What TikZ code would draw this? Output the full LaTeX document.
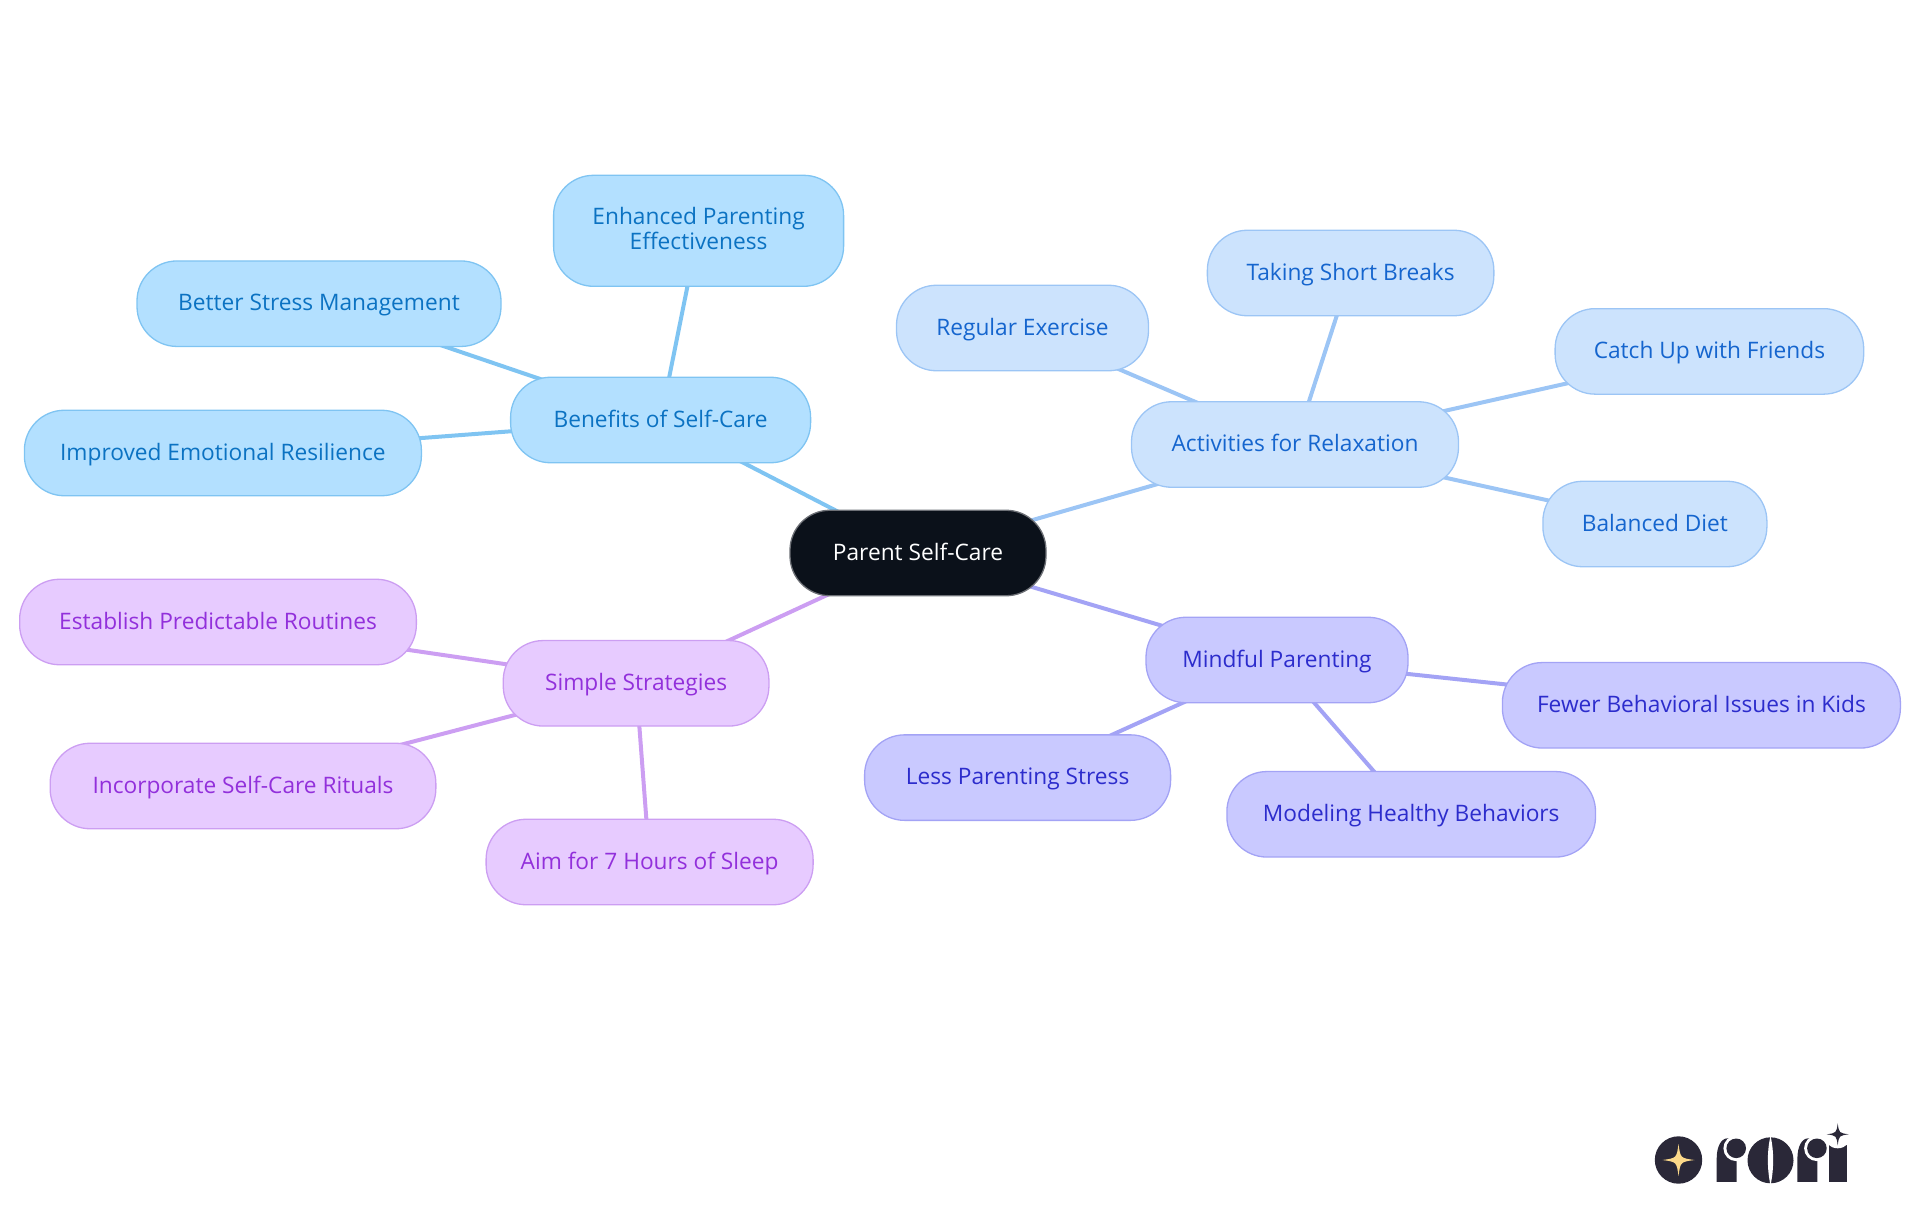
\documentclass[tikz,border=0pt]{standalone}
\usepackage{fontspec}
\setmainfont{Open Sans}
\usetikzlibrary{backgrounds}
\definecolor{benefitfill}{HTML}{B3E0FF}
\definecolor{benefitline}{HTML}{7FC4F2}
\definecolor{benefittext}{HTML}{0B72C2}
\definecolor{relaxfill}{HTML}{CCE3FD}
\definecolor{relaxline}{HTML}{9CC5F5}
\definecolor{relaxtext}{HTML}{1565CE}
\definecolor{mindfill}{HTML}{C9C9FF}
\definecolor{mindline}{HTML}{A3A3F5}
\definecolor{mindtext}{HTML}{2C2CCC}
\definecolor{simplefill}{HTML}{E7CBFF}
\definecolor{simpleline}{HTML}{CC9EF2}
\definecolor{simpletext}{HTML}{9230DB}
\definecolor{rootfill}{HTML}{0B111A}
\definecolor{logoink}{HTML}{2A2838}
\definecolor{logostar}{HTML}{FCD98A}
\tikzset{box/.style = {draw, rounded corners = 40, line width = 1.3, inner sep = 0, minimum height = 85.5, text height = 20, text depth = 6, align = center, font = \fontsize{22.7}{24.5}\selectfont}}
\tikzset{benefitbox/.style = {box, fill = benefitfill, draw = benefitline, text = benefittext}}
\tikzset{relaxbox/.style = {box, fill = relaxfill, draw = relaxline, text = relaxtext}}
\tikzset{mindbox/.style = {box, fill = mindfill, draw = mindline, text = mindtext}}
\tikzset{simplebox/.style = {box, fill = simplefill, draw = simpleline, text = simpletext}}
\tikzset{rootbox/.style = {box, fill = rootfill, draw = rootfill!60!white, text = white}}
\tikzset{link/.style = {line width = 4}}
\tikzset{spark/.pic = {\fill (0,-1) .. controls (0.12,-0.12) .. (1,0) .. controls (0.12,0.12) .. (0,1) .. controls (-0.12,0.12) .. (-1,0) .. controls (-0.12,-0.12) .. cycle;}}
\tikzset{letterr/.pic = {
    \fill [logoink] (0,43.5) -- (0,20) .. controls (0,9) and (4,0) .. (11,0) -- (20,0) -- (20,43.5) -- cycle;
    \fill [white] (19.5,10) circle [radius = 12.8];
    \fill [logoink] (19.5,10) circle [radius = 9.8];
}}

\begin{document}
\begin{tikzpicture}[x = 1pt, y = -1pt]
    \useasboundingbox (0,0) rectangle (1920,1215);
    \node [rootbox, minimum width = 256] (root) at (918,553) {Parent Self-Care};
    \node [benefitbox, minimum width = 300] (benefits) at (660.6,420) {Benefits of Self-Care};
    \node [benefitbox, minimum width = 290, minimum height = 111, text height = 43, text depth = 6] (effective) at (698.6,230.8) {Enhanced Parenting\\Effectiveness};
    \node [benefitbox, minimum width = 364] (stress) at (319,303.7) {Better Stress Management};
    \node [benefitbox, minimum width = 397] (resilience) at (222.9,453) {Improved Emotional Resilience};
    \node [relaxbox, minimum width = 327] (relax) at (1295,444.5) {Activities for Relaxation};
    \node [relaxbox, minimum width = 252] (exercise) at (1022.5,328) {Regular Exercise};
    \node [relaxbox, minimum width = 286.5] (breaks) at (1350.6,273) {Taking Short Breaks};
    \node [relaxbox, minimum width = 308.6] (friends) at (1709.4,351.4) {Catch Up with Friends};
    \node [relaxbox, minimum width = 224] (diet) at (1654.9,524) {Balanced Diet};
    \node [mindbox, minimum width = 262] (mindful) at (1277,660) {Mindful Parenting};
    \node [mindbox, minimum width = 398] (issues) at (1701.4,705.3) {Fewer Behavioral Issues in Kids};
    \node [mindbox, minimum width = 306] (lessstress) at (1017.6,777.6) {Less Parenting Stress};
    \node [mindbox, minimum width = 368.6] (modeling) at (1411.2,814.3) {Modeling Healthy Behaviors};
    \node [simplebox, minimum width = 265.7] (simple) at (636.1,683.3) {Simple Strategies};
    \node [simplebox, minimum width = 396.7] (routines) at (218,622) {Establish Predictable Routines};
    \node [simplebox, minimum width = 385.7] (rituals) at (243,786) {Incorporate Self-Care Rituals};
    \node [simplebox, minimum width = 327] (sleep) at (649.6,862) {Aim for 7 Hours of Sleep};
    \begin{scope}[on background layer]
        \foreach \a/\b in {root/benefits, benefits/effective, benefits/stress, benefits/resilience}
            \draw [link, benefitline] (\a.center) -- (\b.center);
        \foreach \a/\b in {root/relax, relax/exercise, relax/breaks, relax/friends, relax/diet}
            \draw [link, relaxline] (\a.center) -- (\b.center);
        \foreach \a/\b in {root/mindful, mindful/issues, mindful/lessstress, mindful/modeling}
            \draw [link, mindline] (\a.center) -- (\b.center);
        \foreach \a/\b in {root/simple, simple/routines, simple/rituals, simple/sleep}
            \draw [link, simpleline] (\a.center) -- (\b.center);
    \end{scope}
    % logo
    \fill [logoink] (1678.5,1160) circle [radius = 23.7];
    \pic [logostar, scale = 16] at (1678.5,1160) {spark};
    \pic at (1716.7,1138.3) {letterr};
    \fill [logoink] (1770.5,1160.3) circle [radius = 23];
    \fill [white] (1770.5,1136) .. controls (1767,1150) and (1767,1170) .. (1770.5,1185) .. controls (1774,1170) and (1774,1150) .. cycle;
    \pic at (1797.4,1138.3) {letterr};
    \fill [logoink] (1828.7,1181.8) -- (1828.7,1143) -- (1846.7,1143) -- (1846.7,1181.8) -- cycle;
    \fill [white] (1837.7,1134.3) circle [radius = 14];
    \pic [logoink, scale = 11] at (1837.7,1134.3) {spark};
\end{tikzpicture}
\end{document}
